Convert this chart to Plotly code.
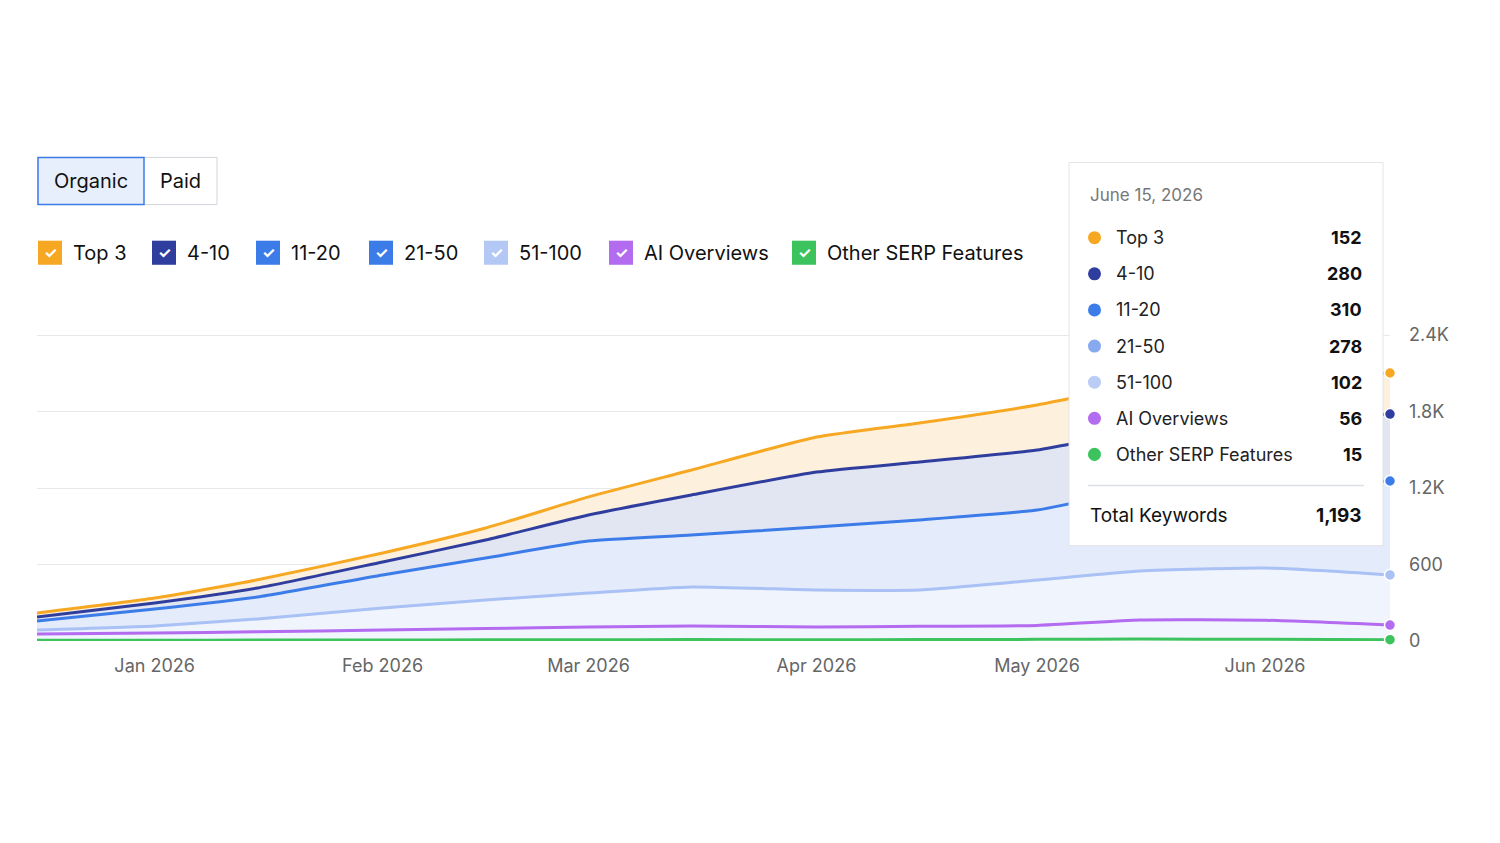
import plotly.graph_objects as go

dates = ["2025-12-16", "2026-01-01", "2026-01-15", "2026-02-01", "2026-02-15", "2026-03-01",
         "2026-03-15", "2026-04-01", "2026-04-15", "2026-05-01", "2026-05-15", "2026-06-01", "2026-06-18"]
# cumulative (stacked) levels
other_serp = [5, 6, 7, 8, 9, 10, 11, 10, 11, 13, 15, 14, 10]
ai_overviews = [55, 63, 72, 86, 98, 110, 118, 110, 115, 122, 165, 163, 125]
pos_51_100 = [86, 118, 173, 259, 322, 376, 424, 400, 400, 478, 549, 573, 518]
pos_11_20 = [157, 251, 345, 518, 651, 784, 831, 894, 949, 1027, 1184, 1225, 1255]
pos_4_10 = [188, 298, 416, 620, 792, 988, 1145, 1325, 1404, 1498, 1647, 1720, 1780]
top_3 = [220, 337, 480, 690, 886, 1130, 1341, 1600, 1710, 1851, 2008, 2055, 2102]

series = [
    ("Other SERP Features", other_serp, "#3cc35d", "rgba(0,0,0,0)"),
    ("AI Overviews", ai_overviews, "#b36bf0", "rgba(240,244,253,0.9)"),
    ("51-100", pos_51_100, "#a9c1f5", "rgba(240,244,253,1)"),
    ("11-20", pos_11_20, "#3b7ce8", "rgba(228,235,251,1)"),
    ("4-10", pos_4_10, "#2f3e9e", "rgba(226,229,242,1)"),
    ("Top 3", top_3, "#f7a823", "rgba(253,240,220,1)"),
]

legend_items = [("Top 3", "#f7a823"), ("4-10", "#2f3e9e"), ("11-20", "#3b7ce8"), ("21-50", "#3b7ce8"),
                ("51-100", "#b4c8f5"), ("AI Overviews", "#b36bf0"), ("Other SERP Features", "#3cc35d")]
tip_labels = ["Top 3", "4-10", "11-20", "21-50", "51-100", "AI Overviews", "Other SERP Features"]
tip_values = ["152", "280", "310", "278", "102", "56", "15"]
tip_colors = ["#f7a823", "#2f3e9e", "#3b7ce8", "#86a9f0", "#bccdf5", "#b36bf0", "#3cc35d"]

fig = go.Figure()
for i, (name, vals, col, fill) in enumerate(series):
    fig.add_scatter(x=dates, y=vals, mode="lines", name=name,
                    line=dict(color=col, width=3, shape="spline", smoothing=0.5),
                    fill="tozeroy" if i == 0 else "tonexty", fillcolor=fill, showlegend=False)
for name, vals, col, fill in series:
    fig.add_scatter(x=[dates[-1]], y=[vals[-1]], mode="markers", showlegend=False,
                    marker=dict(color=col, size=11, line=dict(color="white", width=1.5)), cliponaxis=False)

OFF = 8  # page body margin
W, H = 1500 - 2 * OFF, 843 - 2 * OFF
L, R, T, B = 37, 1390, 335, 641
YMAX = 2400


def px(x):
    return (x - L) / (R - L)


def py(y):
    return (B - y) / (B - T)


shapes, ann = [], []
font = "Inter, Noto Sans, sans-serif"
# Organic / Paid toggle
shapes.append(dict(type="rect", xref="paper", yref="paper", x0=px(38), x1=px(217), y0=py(206), y1=py(159),
                   line=dict(color="#d0d4dc", width=1), fillcolor="white"))
shapes.append(dict(type="rect", xref="paper", yref="paper", x0=px(38), x1=px(144), y0=py(206), y1=py(159),
                   line=dict(color="#3b7ce8", width=1.5), fillcolor="#e8effc"))
ann.append(dict(x=px(91), y=py(182), text="Organic", xanchor="center", font=dict(size=20, color="#111")))
ann.append(dict(x=px(180), y=py(182), text="Paid", xanchor="center", font=dict(size=20, color="#111")))

# legend checkboxes
xs = [50, 164, 268, 381, 496, 621, 804]
for (lab, col), x in zip(legend_items, xs):
    shapes.append(dict(type="rect", xref="paper", yref="paper", x0=px(x - 12), x1=px(x + 12),
                       y0=py(266), y1=py(242), line=dict(width=0), fillcolor=col))
    ann.append(dict(x=px(x), y=py(254), text="<b>✓</b>", xanchor="center", font=dict(size=15, color="white")))
    ann.append(dict(x=px(x + 21), y=py(254), text=lab, xanchor="left", font=dict(size=20, color="#111")))

# tooltip
shapes.append(dict(type="rect", xref="paper", yref="paper", x0=px(1069), x1=px(1383), y0=py(546), y1=py(164),
                   line=dict(color="#e2e4e8", width=1), fillcolor="white", layer="above"))
ann.append(dict(x=px(1088), y=py(196), text="June 15, 2026", xanchor="left", font=dict(size=17, color="#777")))
for i, (lab, val, col) in enumerate(zip(tip_labels, tip_values, tip_colors)):
    yy = 239 + i * 36
    shapes.append(dict(type="circle", xref="paper", yref="paper", x0=px(1088), x1=px(1101), y0=py(yy + 6.5),
                       y1=py(yy - 6.5), line=dict(width=0), fillcolor=col, layer="above"))
    ann.append(dict(x=px(1114), y=py(yy), text=lab, xanchor="left", font=dict(size=18, color="#222")))
    ann.append(dict(x=px(1364), y=py(yy), text=f"<b>{val}</b>", xanchor="right", font=dict(size=18, color="#111")))
shapes.append(dict(type="line", xref="paper", yref="paper", x0=px(1088), x1=px(1364), y0=py(486), y1=py(486),
                   line=dict(color="#dcdfe4", width=1.5), layer="above"))
ann.append(dict(x=px(1088), y=py(516), text="Total Keywords", xanchor="left", font=dict(size=19, color="#111")))
ann.append(dict(x=px(1364), y=py(516), text="<b>1,193</b>", xanchor="right", font=dict(size=19, color="#111")))
for a in ann:
    a.update(xref="paper", yref="paper", showarrow=False, yanchor="middle")

fig.update_layout(
    width=W, height=H, margin=dict(l=L - OFF, r=W - (R - OFF), t=T - OFF - 1, b=H - (B - OFF)),
    paper_bgcolor="white", plot_bgcolor="white", font=dict(family=font),
    shapes=shapes, annotations=ann,
    xaxis=dict(range=["2025-12-16", "2026-06-18"], showgrid=False, zeroline=False,
               tickvals=["2026-01-01", "2026-02-01", "2026-03-01", "2026-04-01", "2026-05-01", "2026-06-01"],
               ticktext=["Jan 2026", "Feb 2026", "Mar 2026", "Apr 2026", "May 2026", "Jun 2026"],
               tickfont=dict(size=18, color="#666"), ticks="", showline=False, ticklabelstandoff=12),
    yaxis=dict(range=[0, YMAX + 8], side="right", tickvals=[0, 600, 1200, 1800, 2400],
               ticktext=["0", "600", "1.2K", "1.8K", "2.4K"], tickfont=dict(size=18, color="#666"),
               gridcolor="#e6e8ec", zeroline=False, ticklabelstandoff=18),
)
fig.write_html("out.html")
